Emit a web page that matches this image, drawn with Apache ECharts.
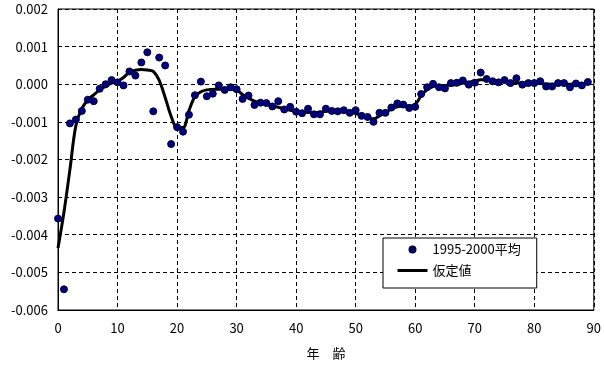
<!DOCTYPE html>
<html>
<head>
<meta charset="utf-8">
<script src="https://cdn.jsdelivr.net/npm/echarts@6/dist/echarts.min.js"></script>
<style>
html,body{margin:0;padding:0;background:#fff;}
#chart{width:604px;height:365px;}
</style>
</head>
<body>
<div id="chart"></div>
<script>
// Ages 0..89
var ages = [];
for (var a = 0; a <= 89; a++) ages.push(a);

// 1995-2000平均 (observed), values per age
var observed = [
  -0.00357, -0.00545, -0.00104, -0.00094, -0.00071, -0.00041, -0.00045, -0.00012, 0.00000, 0.00011,
   0.00005, -0.00003,  0.00034,  0.00023,  0.00058,  0.00085, -0.00072,  0.00071,  0.00050, -0.00159,
  -0.00114, -0.00126, -0.00081, -0.00029,  0.00007, -0.00032, -0.00025, -0.00003, -0.00015, -0.00008,
  -0.00013, -0.00039, -0.00030, -0.00055, -0.00049, -0.00050, -0.00059, -0.00045, -0.00067, -0.00060,
  -0.00073, -0.00077, -0.00065, -0.00080, -0.00080, -0.00065, -0.00071, -0.00072, -0.00069, -0.00076,
  -0.00069, -0.00084, -0.00087, -0.00100, -0.00076, -0.00076, -0.00062, -0.00051, -0.00054, -0.00063,
  -0.00060, -0.00026, -0.00008,  0.00001, -0.00008, -0.00011,  0.00003,  0.00004,  0.00010, -0.00001,
   0.00004,  0.00031,  0.00014,  0.00008,  0.00005,  0.00011,  0.00003,  0.00016, -0.00001,  0.00003,
   0.00003,  0.00008, -0.00006, -0.00006,  0.00003,  0.00003, -0.00008,  0.00002, -0.00003,  0.00006
];

// 仮定値 (assumed), values per age
var assumed = [
  -0.00435, -0.00340, -0.00227, -0.00110, -0.00065, -0.00042, -0.00028, -0.00015, -0.00005, 0.00003,
   0.00008,  0.00018,  0.00032,  0.00037,  0.00039,  0.00038,  0.00034,  0.00010, -0.00035, -0.00085,
  -0.00115, -0.00115, -0.00070, -0.00033, -0.00020, -0.00015, -0.00014, -0.00013, -0.00013, -0.00013,
  -0.00015, -0.00027, -0.00037, -0.00045, -0.00050, -0.00053, -0.00057, -0.00061, -0.00065, -0.00069,
  -0.00072, -0.00074, -0.00075, -0.00075, -0.00074, -0.00072, -0.00071, -0.00071, -0.00071, -0.00074,
  -0.00078, -0.00083, -0.00088, -0.00092, -0.00084, -0.00075, -0.00066, -0.00060, -0.00058, -0.00058,
  -0.00053, -0.00031, -0.00014, -0.00006, -0.00004, -0.00003, -0.00002, -0.00001,  0.00003,  0.00006,
   0.00008,  0.00012,  0.00012,  0.00010,  0.00008,  0.00007,  0.00005,  0.00004,  0.00003,  0.00003,
   0.00003,  0.00002,  0.00001,  0.00000,  0.00000,  0.00000,  0.00000,  0.00001,  0.00001,  0.00002
];

var seriesNames = ['1995-2000平均', '仮定値'];
var xAxisName = '年　齢';

function pairs(vals) {
  return ages.map(function (age, i) { return [age, vals[i]]; });
}

var font = '"Noto Sans CJK JP", "Noto Sans", sans-serif';
var gridLine = { show: true, lineStyle: { color: '#000', type: [4, 3], width: 1 } };

var chart = echarts.init(document.getElementById('chart'), null, { renderer: 'canvas' });
chart.setOption({
  animation: false,
  backgroundColor: '#fff',
  textStyle: { fontFamily: font, color: '#000' },
  grid: { left: 58, right: 8, top: 9, bottom: 49, containLabel: false,
          show: true, borderColor: '#000', borderWidth: 1, backgroundColor: 'transparent' },
  xAxis: {
    type: 'value', min: 0, max: 90, interval: 10,
    name: xAxisName, nameLocation: 'middle', nameGap: 37,
    nameTextStyle: { fontSize: 13, color: '#000', fontFamily: font },
    axisLine: { show: true, onZero: false, lineStyle: { color: '#000', width: 1 } },
    axisTick: { show: false },
    axisLabel: { color: '#000', fontSize: 13, margin: 12, fontFamily: font },
    splitLine: gridLine
  },
  yAxis: {
    type: 'value', min: -0.006, max: 0.002, interval: 0.001,
    axisLine: { show: true, onZero: false, lineStyle: { color: '#000', width: 1 } },
    axisTick: { show: false },
    axisLabel: {
      color: '#000', fontSize: 13, margin: 10, fontFamily: font,
      formatter: function (v) { if (Math.abs(v) < 1e-9) return '0.000'; return v.toFixed(3); }
    },
    splitLine: gridLine
  },
  legend: {
    orient: 'vertical', left: 383, top: 238,
    data: [
      { name: seriesNames[0] },
      { name: seriesNames[1], itemStyle: { opacity: 0, color: 'rgba(0,0,0,0)', borderWidth: 0 } }
    ],
    backgroundColor: '#fff', borderColor: '#000', borderWidth: 1, borderRadius: 0,
    padding: [5, 16, 11, 13],
    itemWidth: 30, itemHeight: 6, itemGap: 8,
    lineStyle: { width: 3, color: '#000' },
    textStyle: { fontSize: 13, color: '#000', fontFamily: font }
  },
  series: [
    {
      name: seriesNames[1], type: 'line', data: pairs(assumed),
      smooth: 0.35, symbol: 'none', showSymbol: false, z: 2,
      lineStyle: { color: '#000', width: 3 }, itemStyle: { color: '#000' }
    },
    {
      name: seriesNames[0], type: 'scatter', data: pairs(observed),
      symbol: 'circle', symbolSize: 7, z: 3,
      itemStyle: { color: '#000080', borderColor: '#000033', borderWidth: 1, opacity: 1 }
    }
  ]
});
</script>
</body>
</html>
